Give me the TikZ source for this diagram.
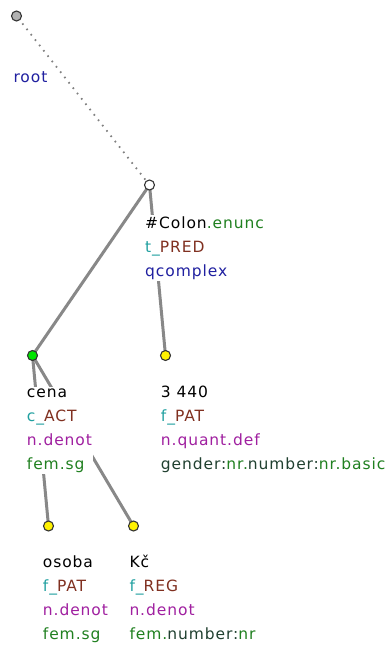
\documentclass[tikz,border=0pt]{standalone}
\usepackage{fontspec}
\setmainfont{DejaVu Sans}[LetterSpace=6]
\usetikzlibrary{backgrounds}
\definecolor{tfacol}{HTML}{20A0A0}
\definecolor{functorcol}{HTML}{803020}
\definecolor{typecol}{HTML}{A020A0}
\definecolor{grammcol}{HTML}{208020}
\definecolor{rootcol}{HTML}{2020A0}
\definecolor{keycol}{HTML}{204030}
\definecolor{edgecol}{HTML}{888888}
\begin{document}
\begin{tikzpicture}[x=1pt, y=-1pt,
            tnode/.style={circle, draw=black!80, line width=1.1pt, minimum size=10pt, inner sep=0pt},
            lbl/.style={anchor=base west, fill=white, inner sep=1pt, align=left,
                    font=\fontsize{15.5}{24.3}\selectfont},
            edge/.style={draw=edgecol, line width=3pt},
            rootedge/.style={draw=gray, line width=1.8pt, dash pattern=on 1.6pt off 5.2pt}
        ]
        \useasboundingbox (0,0) rectangle (390,645);
        \node[tnode, fill=gray!60] (root) at (16.5,16) {};
        \node[tnode, fill=white] (colon) at (149.5,185) {};
        \node[tnode, fill=green!90!black] (cena) at (32.5,355.5) {};
        \node[tnode, fill=yellow] (num) at (165.5,355.5) {};
        \node[tnode, fill=yellow] (osoba) at (48.5,526) {};
        \node[tnode, fill=yellow] (kc) at (133.5,526) {};

        % labels: anchored at the baseline of their last line
        \node[lbl] (rootlbl) at (12.3,82) {\textcolor{rootcol}{root}};
        \node[lbl] (colonlbl) at (144,276.6) {\#Colon\textcolor{grammcol}{.enunc}\\
            \textcolor{tfacol}{t\_}\textcolor{functorcol}{PRED}\\
            \textcolor{rootcol}{qcomplex}};
        \node[lbl] (cenalbl) at (25.7,469.9) {cena\\
            \textcolor{tfacol}{c\_}\textcolor{functorcol}{ACT}\\
            \textcolor{typecol}{n.denot}\\
            \textcolor{grammcol}{fem.sg}};
        \node[lbl] (numlbl) at (159.7,469.9) {3 440\\
            \textcolor{tfacol}{f\_}\textcolor{functorcol}{PAT}\\
            \textcolor{typecol}{n.quant.def}\\
            \textcolor{keycol}{gender:}\textcolor{grammcol}{nr.}\textcolor{keycol}{number:}\textcolor{grammcol}{nr.basic}};
        \node[lbl] (osobalbl) at (41.7,639.9) {osoba\\
            \textcolor{tfacol}{f\_}\textcolor{functorcol}{PAT}\\
            \textcolor{typecol}{n.denot}\\
            \textcolor{grammcol}{fem.sg}};
        \node[lbl] (kclbl) at (128.3,639.9) {Kč\\
            \textcolor{tfacol}{f\_}\textcolor{functorcol}{REG}\\
            \textcolor{typecol}{n.denot}\\
            \textcolor{grammcol}{fem.}\textcolor{keycol}{number:}\textcolor{grammcol}{nr}};

        \begin{scope}[on background layer]
            \draw[rootedge] (colon.center) -- (root.center);
            \draw[edge] (cena.center) -- (colon.center);
            \draw[edge] (num.center) -- (colon.center);
            \draw[edge] (osoba.center) -- (cena.center);
            \draw[edge] (kc.center) -- (cena.center);
        \end{scope}
    \end{tikzpicture}
\end{document}
